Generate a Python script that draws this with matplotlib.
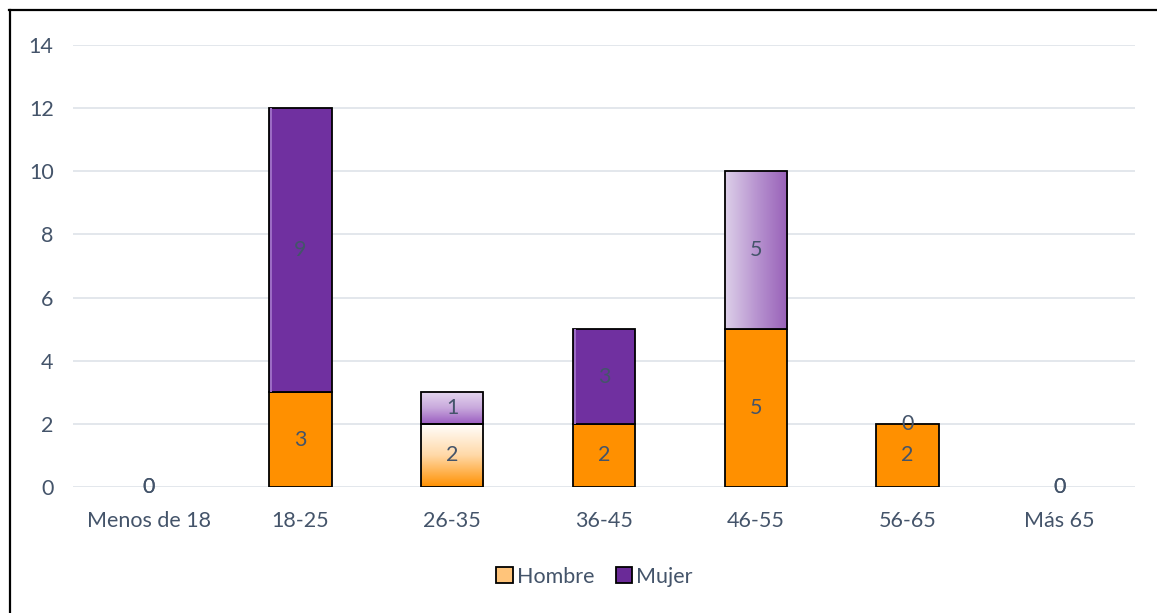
import numpy as np
import matplotlib.pyplot as plt
from matplotlib.colors import LinearSegmentedColormap
from matplotlib.patches import Patch
from matplotlib.lines import Line2D

categories = ["Menos de 18", "18-25", "26-35", "36-45", "46-55", "56-65", "Más 65"]
hombre = [0, 3, 2, 2, 5, 2, 0]
mujer = [0, 9, 1, 3, 5, 0, 0]

ORANGE = "#FF9000"
PURPLE = "#7030A0"
TEXT = "#44546A"
FS = 15.5

plt.rcParams["font.family"] = ["Lato", "DejaVu Sans"]

fig = plt.figure(figsize=(11.57, 6.13), dpi=100)
ax = fig.add_axes([0.0631, 0.2055, 0.9179, 0.7211])

x = np.arange(len(categories))
width = 0.41

bars_h = ax.bar(x, hombre, width, color=ORANGE, edgecolor="black", linewidth=1.3, zorder=3)
bars_m = ax.bar(x, mujer, width, bottom=hombre, color=PURPLE, edgecolor="black", linewidth=1.3, zorder=3)

# empty segments get no outline
for b in list(bars_h) + list(bars_m):
    if b.get_height() == 0:
        b.set_visible(False)


def gradient_fill(bar, colors, vertical=True):
    # paint a gradient inside the bar and clip it to the bar outline
    cmap = LinearSegmentedColormap.from_list("g", colors)
    grad = np.linspace(0, 1, 256)
    img = grad.reshape(-1, 1) if vertical else grad.reshape(1, -1)
    x0, y0 = bar.get_x(), bar.get_y()
    w, h = bar.get_width(), bar.get_height()
    im = ax.imshow(img, cmap=cmap, aspect="auto", origin="lower",
                   extent=[x0, x0 + w, y0, y0 + h], zorder=3.5)
    im.set_clip_path(bar)
    bar.set_facecolor("none")
    bar.set_zorder(4)


# lighter gradients on a few segments
gradient_fill(bars_h[2], [ORANGE, "#FFD9A8", "#FFFFFF"], vertical=True)
gradient_fill(bars_m[2], ["#9A5CC0", "#C8A8DC", "#E4D6EE"], vertical=True)
gradient_fill(bars_m[4], ["#DDD0E9", "#B894D0", "#9860B8"], vertical=False)

# thin highlight strip on the left of the solid purple bars
for i in (1, 3):
    b = bars_m[i]
    ax.bar(b.get_x() + 0.006, b.get_height(), 0.012, bottom=b.get_y(),
           align="edge", color="#9C6CC4", linewidth=0, zorder=3.6)

# value labels centered on each segment
for i in range(len(categories)):
    ax.text(x[i], hombre[i] / 2, str(hombre[i]), ha="center", va="center",
            color=TEXT, fontsize=FS, zorder=5)
    ax.text(x[i], hombre[i] + mujer[i] / 2, str(mujer[i]), ha="center", va="center",
            color=TEXT, fontsize=FS, zorder=5)

ax.set_xlim(-0.5, len(categories) - 0.5)
ax.set_ylim(0, 14)
ax.set_yticks(range(0, 15, 2))
ax.set_xticks(x)
ax.set_xticklabels(categories)
ax.tick_params(length=0, labelsize=FS, labelcolor=TEXT)
ax.tick_params(axis="y", pad=14)
ax.tick_params(axis="x", pad=17)
ax.grid(axis="y", color="#E1E5EB", linewidth=1.3, zorder=0)
for s in ax.spines.values():
    s.set_visible(False)

handles = [
    Patch(facecolor="#FFC47A", edgecolor="black", linewidth=1.3),
    Patch(facecolor="#6A2A98", edgecolor="black", linewidth=1.3),
]
fig.legend(handles, ["Hombre", "Mujer"], loc="center", bbox_to_anchor=(0.514, 0.059),
           ncol=2, frameon=False, fontsize=FS, labelcolor=TEXT,
           handlelength=0.75, handleheight=0.75, handletextpad=0.2, columnspacing=1.0)

# outer frame: top and left edges
fig.add_artist(Line2D([9 / 1157, 1], [1 - 10 / 613, 1 - 10 / 613], color="black",
                      linewidth=1.6, transform=fig.transFigure))
fig.add_artist(Line2D([9.5 / 1157, 9.5 / 1157], [0, 1 - 10 / 613], color="black",
                      linewidth=1.6, transform=fig.transFigure))

fig.savefig("out.png", dpi=100)
